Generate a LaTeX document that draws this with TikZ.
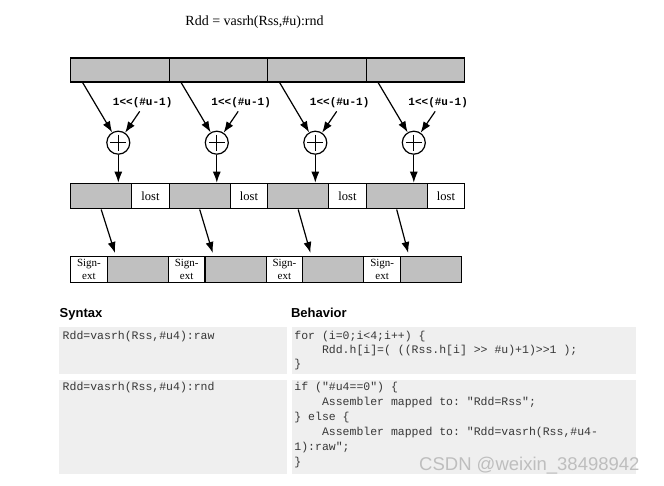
\documentclass[tikz,border=0pt]{standalone}
\usepackage{fontspec}
\setmainfont{Liberation Serif}
\setsansfont{Liberation Sans}
\setmonofont{Liberation Mono}
\usetikzlibrary{arrows.meta, calc}
\definecolor{regfill}{RGB}{192,192,192}
\definecolor{cellbg}{RGB}{239,239,239}
\definecolor{codetext}{RGB}{55,55,55}
\definecolor{wmark}{RGB}{190,190,190}

\begin{document}
\begin{tikzpicture}[
        x=1pt, y=-1pt,
        reg/.style={rectangle, draw, line width=1.2pt, fill=regfill,
                    inner sep=0pt, anchor=north west},
        lostcell/.style={reg, fill=white, font=\fontsize{12.5}{14}\selectfont},
        signcell/.style={reg, fill=white, align=center,
                         font=\fontsize{11}{12.5}\selectfont},
        adder/.style={circle, draw, line width=1.2pt, fill=white,
                      minimum size=23pt, inner sep=0pt,
                      path picture={
                        \draw[line width=1.2pt]
                          ($(path picture bounding box.center)+(-8,0)$) -- ($(path picture bounding box.center)+(8,0)$)
                          ($(path picture bounding box.center)+(0,-8)$) -- ($(path picture bounding box.center)+(0,8)$);
                      }},
        rndlabel/.style={font=\ttfamily\bfseries\fontsize{11}{12}\selectfont},
        arrow/.style={-{Latex[length=11pt,width=8pt]}, line width=1.2pt},
        tcell/.style={fill=cellbg, draw=none, inner sep=0pt, anchor=north west},
        code/.style={anchor=base west, inner sep=0pt, text=codetext,
                     font=\ttfamily\frenchspacing\fontsize{11.5}{14}\selectfont},
        head/.style={anchor=base west, inner sep=0pt,
                     font=\sffamily\bfseries\fontsize{13}{15}\selectfont},
    ]
        \useasboundingbox (0,0) rectangle (664,486);

        \node[anchor=base, font=\fontsize{14}{16}\selectfont] (title) at (254.5,25.5) {Rdd = vasrh(Rss,\#u):rnd};

        % four halfword lanes
        \foreach \i in {1,...,4} {
            \pgfmathsetmacro\off{(\i-1)*98.5}
            \pgfmathsetmacro\offb{(\i-1)*97.75}
            \node[reg, minimum width=98.5pt, minimum height=24pt] (src\i) at (70+\off,57.5) {};
            \node[rndlabel] (rnd\i) at (142.7+\off,102.7) {1<<(\#u-1)};
            \node[adder] (add\i) at (118.3+\off,142.7) {};
            \node[reg, minimum width=61.2pt, minimum height=25.6pt] (sum\i) at (70+\off,182.7) {};
            \node[lostcell, minimum width=37.3pt, minimum height=25.6pt] (lost\i) at (131.2+\off,182.7) {lost};
            \node[signcell, minimum width=36.7pt, minimum height=25.7pt] (sx\i) at (70+\offb,256) {Sign-\\ext};
            \node[reg, minimum width=61.05pt, minimum height=25.7pt] (res\i) at (106.7+\offb,256) {};

            \draw[arrow] ($(src\i.south west)+(12.7,0)$) -- (add\i);
            \draw[arrow] ($(rnd\i.south)+(-3,0)$) -- (add\i);
            \draw[arrow] (add\i) -- (add\i |- sum\i.north);
            \draw[arrow] (sum\i.south) -- ($(res\i.north west)+(8.3,-3)$);
        }

        % syntax / behavior table
        \node[head] (synhead) at (59.5,317.3) {Syntax};
        \node[head] (behhead) at (290.8,317.3) {Behavior};

        \node[tcell, minimum width=228pt, minimum height=47pt] (syncell1) at (59,327) {};
        \node[tcell, minimum width=344.3pt, minimum height=47pt] (behcell1) at (291.7,327) {};
        \node[tcell, minimum width=228pt, minimum height=94.7pt] (syncell2) at (59,379.3) {};
        \node[tcell, minimum width=344.3pt, minimum height=94.7pt] (behcell2) at (291.7,379.3) {};

        \node[code] (synraw) at (62.5,339) {Rdd=vasrh(Rss,\#u4):raw};
        \node[code] (behraw1) at (294.2,339) {for (i=0;i<4;i++) \{};
        \node[code] (behraw2) at (294.2,353.3) {\hspace*{2.4em}Rdd.h[i]=( ((Rss.h[i] >> \#u)+1)>>1 );};
        \node[code] (behraw3) at (294.2,367.6) {\}};

        \node[code] (synrnd) at (62.5,390) {Rdd=vasrh(Rss,\#u4):rnd};
        \node[code] (behrnd1) at (294.2,390) {if ("\#u4==0") \{};
        \node[code] (behrnd2) at (294.2,405) {\hspace*{2.4em}Assembler mapped to: "Rdd=Rss";};
        \node[code] (behrnd3) at (294.2,420) {\} else \{};
        \node[code] (behrnd4) at (294.2,435) {\hspace*{2.4em}Assembler mapped to: "Rdd=vasrh(Rss,\#u4-};
        \node[code] (behrnd5) at (294.2,450) {1):raw";};
        \node[code] (behrnd6) at (294.2,465) {\}};

        \node[anchor=base west, inner sep=0pt, text=wmark, font=\sffamily\fontsize{18.5}{20}\selectfont] (wm) at (419,470.7) {CSDN @weixin\_38498942};
    \end{tikzpicture}
\end{document}
